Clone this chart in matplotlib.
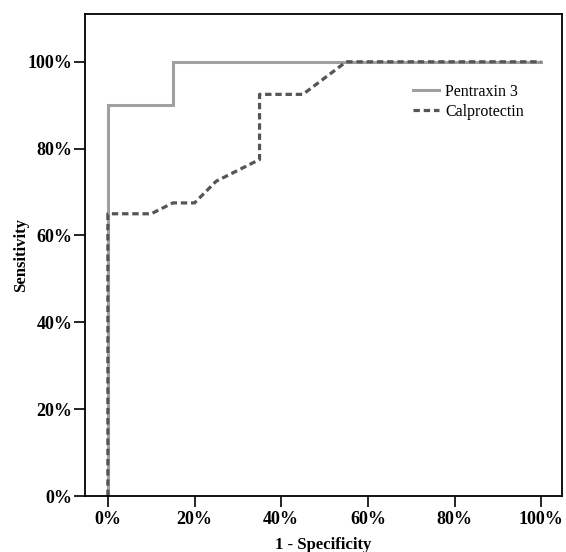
import matplotlib
matplotlib.use("Agg")
import matplotlib.pyplot as plt
from matplotlib.ticker import PercentFormatter

# ROC curve points (1 - specificity, sensitivity), in percent
pentraxin_fpr = [0, 0, 15, 15, 100]
pentraxin_tpr = [0, 90, 90, 100, 100]

calpro_fpr = [0, 0, 10, 15, 20, 25, 35, 35, 45, 55, 100]
calpro_tpr = [0, 65, 65, 67.5, 67.5, 72.5, 77.5, 92.5, 92.5, 100, 100]

x_ticks = [0, 20, 40, 60, 80, 100]
y_ticks = [0, 20, 40, 60, 80, 100]

plt.rcParams['font.family'] = ['Liberation Serif', 'DejaVu Serif']

fig = plt.figure(figsize=(5.66, 5.52), dpi=100)
ax = fig.add_axes([0.150, 0.1014, 0.843, 0.8732])

ax.plot(pentraxin_fpr, pentraxin_tpr, color='#a0a0a0', lw=2.2,
        label='Pentraxin 3', solid_joinstyle='miter')
ax.plot(calpro_fpr, calpro_tpr, color='#555555', lw=2.3,
        linestyle=(0, (2.0, 1.2)), label='Calprotectin')

ax.set_xlim(-5.3, 104.8)
ax.set_ylim(0, 111)
ax.set_xticks(x_ticks)
ax.set_yticks(y_ticks)
ax.xaxis.set_major_formatter(PercentFormatter(decimals=0))
ax.yaxis.set_major_formatter(PercentFormatter(decimals=0))

for lab in ax.get_xticklabels() + ax.get_yticklabels():
    lab.set_fontweight('bold')
ax.tick_params(axis='both', labelsize=13, length=8, width=1.2, direction='out')
ax.tick_params(axis='x', pad=3)
ax.tick_params(axis='y', pad=1)
for sp in ax.spines.values():
    sp.set_linewidth(1.3)

ax.set_xlabel('1 - Specificity', fontsize=12, fontweight='bold', labelpad=6)
ax.set_ylabel('Sensitivity', fontsize=12, fontweight='bold', labelpad=-1)

ax.legend(loc='upper left', bbox_to_anchor=(0.675, 0.868), frameon=False,
          fontsize=11.5, handlelength=1.6, handletextpad=0.4,
          labelspacing=0.25, borderaxespad=0)

fig.savefig('out.png', dpi=100)
